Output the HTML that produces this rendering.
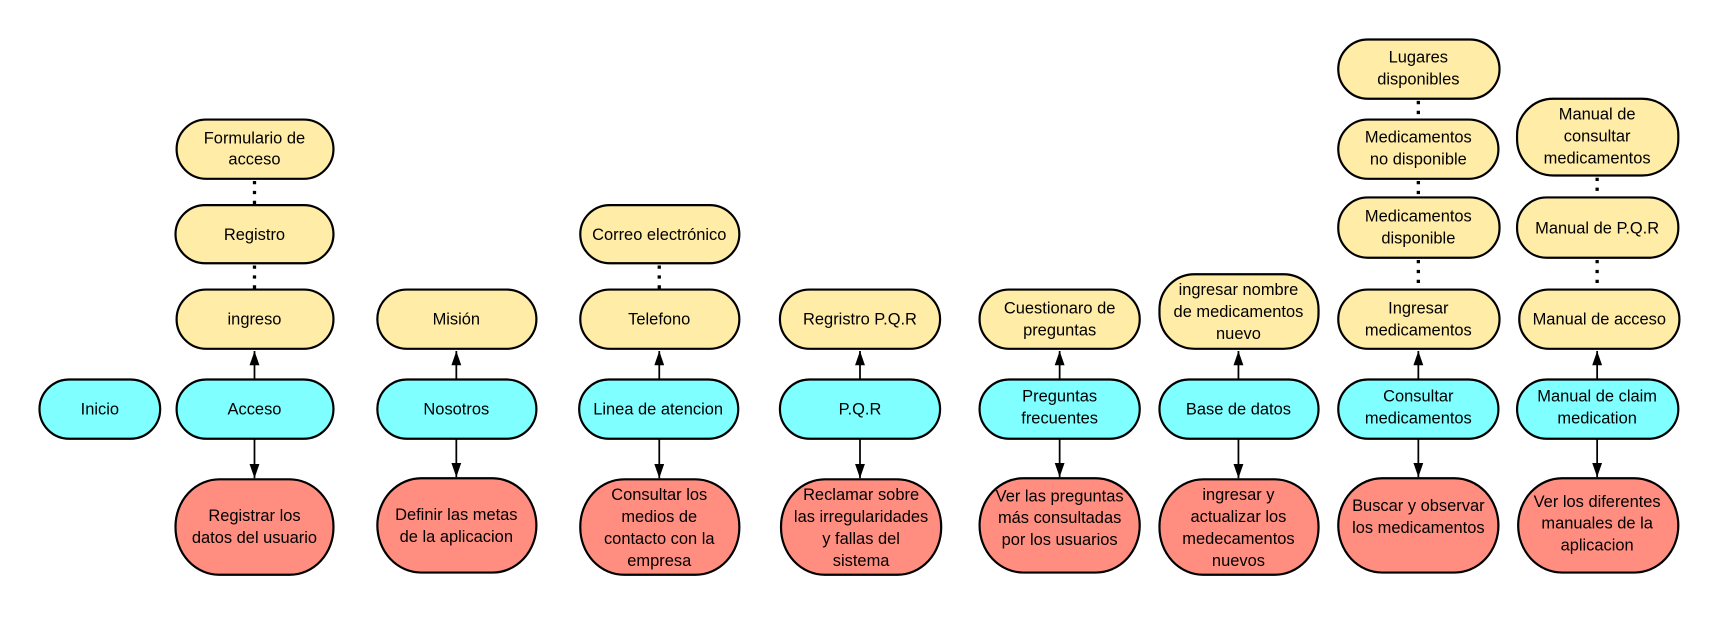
<!DOCTYPE html>
<html><head><meta charset="utf-8"><style>
html,body{margin:0;padding:0;background:#fff;}
svg{display:block;}
text{font-family:"Liberation Sans",sans-serif;font-size:15px;fill:#000;text-anchor:middle;}
.y{fill:#FFECA6;stroke:#000;stroke-width:2;}
.c{fill:#7FFFFF;stroke:#000;stroke-width:2;}
.r{fill:#FF8E80;stroke:#000;stroke-width:2;}
.a{stroke:#000;stroke-width:1.6;fill:none;}
.d{stroke:#000;stroke-width:3;stroke-dasharray:3 6;fill:none;}
</style></head><body>
<svg width="1720" height="617" viewBox="0 0 1568 562.5" preserveAspectRatio="none">
<defs><marker id="m" viewBox="0 0 13 9" refX="13" refY="4.5" markerWidth="13" markerHeight="9" orient="auto" markerUnits="userSpaceOnUse"><path d="M0,0L13,4.5L0,9z" fill="#000"/></marker></defs>

<rect class="c" x="36" y="346" width="110" height="54" rx="27"/><text x="91" y="378">Inicio</text>

<rect class="y" x="161" y="109" width="143" height="54" rx="27"/><text x="232" y="131">Formulario de</text><text x="232" y="150">acceso</text>
<rect class="y" x="160" y="187" width="144" height="53" rx="27"/><text x="232" y="219">Registro</text>
<rect class="y" x="161" y="264" width="143" height="54" rx="27"/><text x="232" y="296">ingreso</text>
<rect class="c" x="161" y="346" width="143" height="54" rx="27"/><text x="232" y="378">Acceso</text>
<rect class="r" x="160" y="437" width="144" height="87" rx="40" ry="43"/><text x="232" y="475">Registrar los</text><text x="232" y="495">datos del usuario</text>
<line class="d" x1="232" y1="165" x2="232" y2="187"/><line class="d" x1="232" y1="242" x2="232" y2="264"/>
<line class="a" x1="232" y1="346" x2="232" y2="320" marker-end="url(#m)"/><line class="a" x1="232" y1="400" x2="232" y2="436" marker-end="url(#m)"/>

<rect class="y" x="344" y="264" width="145" height="54" rx="27"/><text x="416" y="296">Misión</text>
<rect class="c" x="344" y="346" width="145" height="54" rx="27"/><text x="416" y="378">Nosotros</text>
<rect class="r" x="344" y="436" width="145" height="86" rx="40" ry="43"/><text x="416" y="474">Definir las metas</text><text x="416" y="494">de la aplicacion</text>
<line class="a" x1="416" y1="346" x2="416" y2="320" marker-end="url(#m)"/><line class="a" x1="416" y1="400" x2="416" y2="435" marker-end="url(#m)"/>

<rect class="y" x="529" y="187" width="145" height="53" rx="27"/><text x="601" y="219">Correo electrónico</text>
<rect class="y" x="529" y="264" width="145" height="54" rx="27"/><text x="601" y="296">Telefono</text>
<rect class="c" x="528" y="346" width="145" height="54" rx="27"/><text x="600" y="378">Linea de atencion</text>
<rect class="r" x="529" y="437" width="145" height="87" rx="40" ry="43"/><text x="601" y="456">Consultar los</text><text x="601" y="476">medios de</text><text x="601" y="496">contacto con la</text><text x="601" y="516">empresa</text>
<line class="d" x1="601" y1="242" x2="601" y2="264"/>
<line class="a" x1="601" y1="346" x2="601" y2="320" marker-end="url(#m)"/><line class="a" x1="601" y1="400" x2="601" y2="436" marker-end="url(#m)"/>

<rect class="y" x="711" y="264" width="146" height="54" rx="27"/><text x="784" y="296">Regristro P.Q.R</text>
<rect class="c" x="711" y="346" width="146" height="54" rx="27"/><text x="784" y="378">P.Q.R</text>
<rect class="r" x="712" y="437" width="146" height="87" rx="40" ry="43"/><text x="785" y="456">Reclamar sobre</text><text x="785" y="476">las irregularidades</text><text x="785" y="496">y fallas del</text><text x="785" y="516">sistema</text>
<line class="a" x1="784" y1="346" x2="784" y2="320" marker-end="url(#m)"/><line class="a" x1="784" y1="400" x2="784" y2="436" marker-end="url(#m)"/>

<rect class="y" x="893" y="264" width="146" height="54" rx="27"/><text x="966" y="286">Cuestionaro de</text><text x="966" y="306">preguntas</text>
<rect class="c" x="893" y="346" width="146" height="54" rx="27"/><text x="966" y="366">Preguntas</text><text x="966" y="386">frecuentes</text>
<rect class="r" x="893" y="436" width="146" height="86" rx="40" ry="43"/><text x="966" y="457">Ver las preguntas</text><text x="966" y="477">más consultadas</text><text x="966" y="497">por los usuarios</text>
<line class="a" x1="966" y1="346" x2="966" y2="320" marker-end="url(#m)"/><line class="a" x1="966" y1="400" x2="966" y2="435" marker-end="url(#m)"/>

<rect class="y" x="1057" y="250" width="145" height="68" rx="32"/><text x="1129" y="269">ingresar nombre</text><text x="1129" y="289">de medicamentos</text><text x="1129" y="309">nuevo</text>
<rect class="c" x="1057" y="346" width="145" height="54" rx="27"/><text x="1129" y="378">Base de datos</text>
<rect class="r" x="1057" y="437" width="145" height="87" rx="40" ry="43"/><text x="1129" y="456">ingresar y</text><text x="1129" y="476">actualizar los</text><text x="1129" y="496">medecamentos</text><text x="1129" y="516">nuevos</text>
<line class="a" x1="1129" y1="346" x2="1129" y2="320" marker-end="url(#m)"/><line class="a" x1="1129" y1="400" x2="1129" y2="436" marker-end="url(#m)"/>

<rect class="y" x="1220" y="36" width="147" height="54" rx="27"/><text x="1293" y="57">Lugares</text><text x="1293" y="77">disponibles</text>
<rect class="y" x="1220" y="109" width="146" height="54" rx="27"/><text x="1293" y="130">Medicamentos</text><text x="1293" y="150">no disponible</text>
<rect class="y" x="1220" y="180" width="147" height="55" rx="27"/><text x="1293" y="202">Medicamentos</text><text x="1293" y="222">disponible</text>
<rect class="y" x="1220" y="264" width="147" height="54" rx="27"/><text x="1293" y="286">Ingresar</text><text x="1293" y="306">medicamentos</text>
<rect class="c" x="1220" y="346" width="146" height="54" rx="27"/><text x="1293" y="366">Consultar</text><text x="1293" y="386">medicamentos</text>
<rect class="r" x="1220" y="436" width="146" height="86" rx="40" ry="43"/><text x="1293" y="466">Buscar y observar</text><text x="1293" y="486">los medicamentos</text>
<line class="d" x1="1293" y1="92" x2="1293" y2="109"/><line class="d" x1="1293" y1="165" x2="1293" y2="180"/><line class="d" x1="1293" y1="237" x2="1293" y2="264"/>
<line class="a" x1="1293" y1="346" x2="1293" y2="320" marker-end="url(#m)"/><line class="a" x1="1293" y1="400" x2="1293" y2="435" marker-end="url(#m)"/>

<rect class="y" x="1383" y="90" width="147" height="70" rx="33"/><text x="1456" y="109">Manual de</text><text x="1456" y="129">consultar</text><text x="1456" y="149">medicamentos</text>
<rect class="y" x="1383" y="180" width="147" height="55" rx="27"/><text x="1456" y="213">Manual de P.Q.R</text>
<rect class="y" x="1385" y="264" width="146" height="54" rx="27"/><text x="1458" y="296">Manual de acceso</text>
<rect class="c" x="1383" y="346" width="147" height="54" rx="27"/><text x="1456" y="366">Manual de claim</text><text x="1456" y="386">medication</text>
<rect class="r" x="1384" y="436" width="146" height="86" rx="40" ry="43"/><text x="1456" y="462">Ver los diferentes</text><text x="1456" y="482">manuales de la</text><text x="1456" y="502">aplicacion</text>
<line class="d" x1="1456" y1="162" x2="1456" y2="180"/><line class="d" x1="1456" y1="237" x2="1456" y2="264"/>
<line class="a" x1="1456" y1="346" x2="1456" y2="320" marker-end="url(#m)"/><line class="a" x1="1456" y1="400" x2="1456" y2="435" marker-end="url(#m)"/>
</svg>
</body></html>
